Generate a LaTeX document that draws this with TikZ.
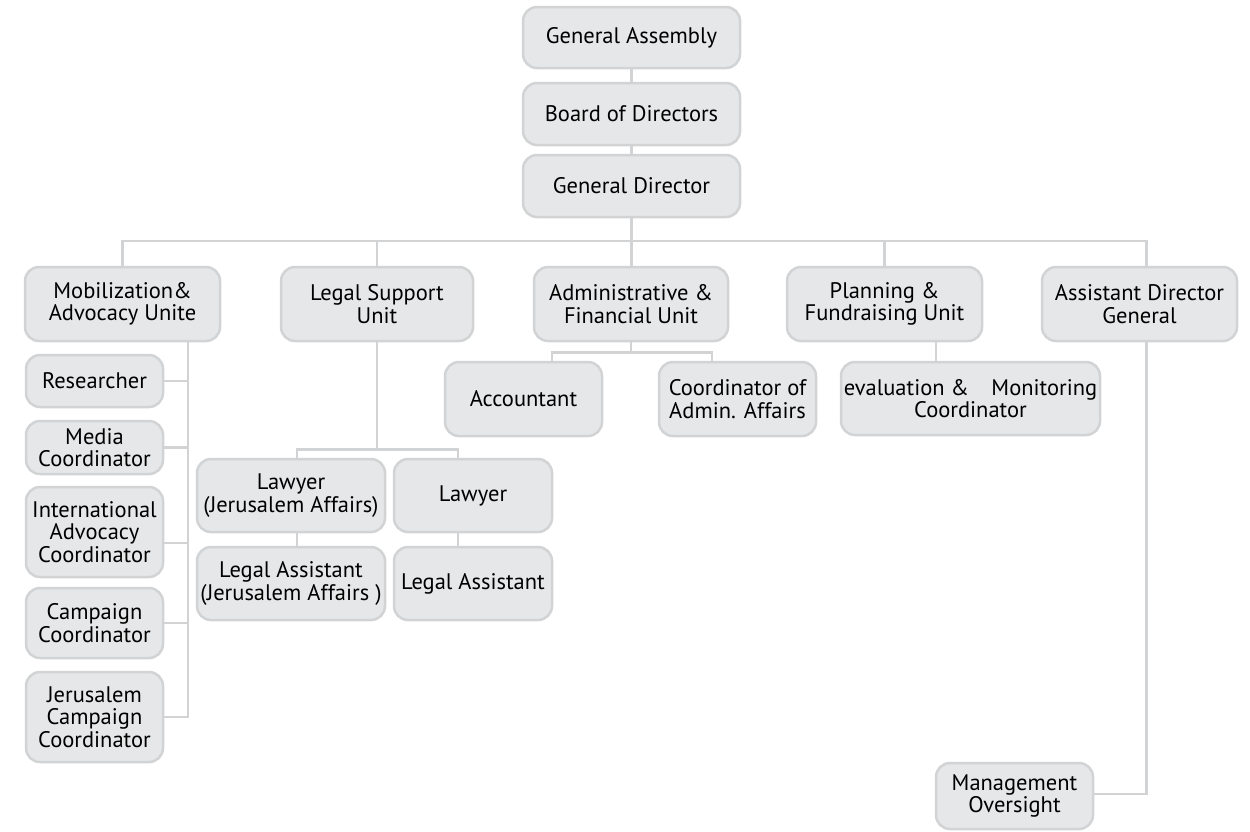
\documentclass[tikz,border=0pt]{standalone}
\usepackage{fontspec}
\setmainfont{PT Sans}
\usetikzlibrary{backgrounds}
\definecolor{boxfill}{HTML}{E6E7E8}
\definecolor{boxline}{HTML}{D1D3D4}
\tikzset{
	unit/.style={draw=boxline, fill=boxfill, line width=2.5pt, rounded corners=14pt, align=center, inner sep=0pt, font=\fontsize{22.5}{22.5}\selectfont},
	link/.style={draw=boxline, line width=2.5pt}
}

\begin{document}
\begin{tikzpicture}[x=1pt, y=-1pt]
		%%%%% START %%%%%
		\useasboundingbox (0, 0) rectangle (1250, 831);
		
		\node[unit, minimum width=217, minimum height=61] (ga) at (631.5, 37.5) {General Assembly};
		\node[unit, minimum width=217, minimum height=62] (bod) at (631.5, 114) {Board of Directors};
		\node[unit, minimum width=217, minimum height=62] (gd) at (631.5, 186) {General Director};
		
		\node[unit, minimum width=195, minimum height=74] (mob) at (122.5, 304) {Mobilization\&\\Advocacy Unite};
		\node[unit, minimum width=192, minimum height=74] (legal) at (377, 304) {Legal Support\\Unit};
		\node[unit, minimum width=194, minimum height=74] (admin) at (631, 304) {Administrative \&\\Financial Unit};
		\node[unit, minimum width=195, minimum height=74] (plan) at (884.5, 304) {Planning \&\\Fundraising Unit};
		\node[unit, minimum width=195, minimum height=74] (asst) at (1139.5, 304) {Assistant Director\\General};
		
		\node[unit, minimum width=137, minimum height=52] (res) at (94.5, 381) {Researcher};
		\node[unit, minimum width=137, minimum height=53] (media) at (94.5, 447.5) {Media\\Coordinator};
		\node[unit, minimum width=137, minimum height=90] (intl) at (94.5, 532) {International\\Advocacy\\Coordinator};
		\node[unit, minimum width=137, minimum height=70] (camp) at (94.5, 623) {Campaign\\Coordinator};
		\node[unit, minimum width=137, minimum height=90] (jcamp) at (94.5, 717) {Jerusalem\\Campaign\\Coordinator};
		\coordinate (mobtrunk) at (188, 717);
		
		\node[unit, minimum width=188, minimum height=73] (lawj) at (291, 495.5) {Lawyer\\(Jerusalem Affairs)};
		\node[unit, minimum width=158, minimum height=73] (law) at (473, 495.5) {Lawyer};
		\node[unit, minimum width=188, minimum height=73] (laj) at (291, 583.5) {Legal Assistant\\(Jerusalem Affairs )};
		\node[unit, minimum width=158, minimum height=73] (la) at (473, 583.5) {Legal Assistant};
		
		\node[unit, minimum width=157, minimum height=74] (acct) at (523.5, 399) {Accountant};
		\node[unit, minimum width=157, minimum height=74] (coord) at (737.5, 399) {Coordinator of\\Admin. Affairs};
		
		\node[unit, minimum width=259, minimum height=73] (eval) at (970.5, 398.5) {evaluation \&\quad Monitoring\\Coordinator};
		
		\node[unit, minimum width=157, minimum height=66] (mgmt) at (1014.5, 796) {Management\\Oversight};
		
		\begin{scope}[on background layer]
			\draw[link] (ga) -- (bod);
			\draw[link] (bod) -- (gd);
			\draw[link] (gd.south) -- (gd.south |- admin.north);
			\draw[link] (mob.north) -- ++(0, -25) -| ([xshift=7pt]asst.north);
			\draw[link] (legal.north) -- ++(0, -25);
			\draw[link] (plan.north) -- ++(0, -25);
			
			\draw[link] ([xshift=65.5pt]mob.south) -- (mobtrunk) -- (jcamp.east);
			\draw[link] (res.east) -- (res.east -| mobtrunk);
			\draw[link] (media.east) -- (media.east -| mobtrunk);
			\draw[link] ([yshift=-11pt]intl.east) -- ([yshift=-11pt]intl.east -| mobtrunk);
			\draw[link] (camp.east) -- (camp.east -| mobtrunk);
			
			\draw[link] (legal.south) -- ++(0, 107) coordinate (lbus) -| ([xshift=6pt]lawj.north);
			\draw[link] (lbus) -| ([xshift=-15pt]law.north);
			\draw[link] ([xshift=6pt]lawj.south) -- ([xshift=6pt]laj.north);
			\draw[link] ([xshift=-15pt]law.south) -- ([xshift=-15pt]la.north);
			
			\draw[link] (admin.south) -- ++(0, 10) coordinate (abus) -| ([xshift=28.5pt]acct.north);
			\draw[link] (abus) -| ([xshift=-25.5pt]coord.north);
			
			\draw[link] ([xshift=51.5pt]plan.south) -- ([xshift=-34.5pt]eval.north);
			\draw[link] ([xshift=7pt]asst.south) |- ([yshift=2pt]mgmt.east);
		\end{scope}
		%%%%% END %%%%%
	\end{tikzpicture}
\end{document}
